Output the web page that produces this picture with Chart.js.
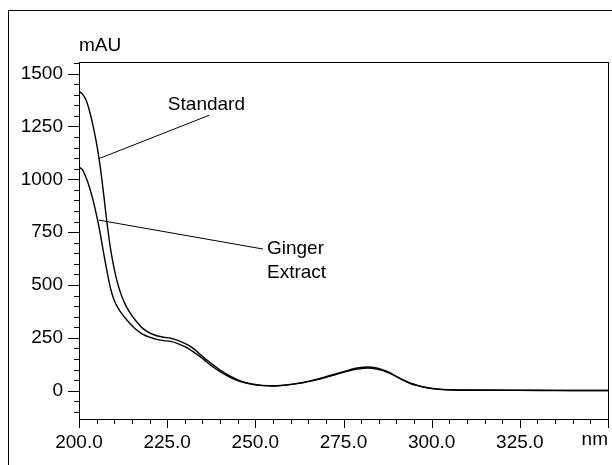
<!DOCTYPE html>
<html>
<head>
<meta charset="utf-8">
<script src="https://cdn.jsdelivr.net/npm/chart.js@4.4.1/dist/chart.umd.min.js"></script>
<style>
  html, body { margin: 0; padding: 0; background: #fff; }
  #wrap { position: relative; width: 612px; height: 465px; overflow: hidden; }
  #frame { position: absolute; left: 8px; top: 10px; width: 700px; height: 600px; border: 1px solid #000; box-sizing: border-box; }
  canvas { position: absolute; left: 0; top: 0; }
</style>
</head>
<body>
<div id="wrap">
  <div id="frame"></div>
  <canvas id="c" width="612" height="465"></canvas>
</div>
<script>
// ---- data ----
const wavelengths = [200,201,202,203,204,205,206,207,208,209,210,211,212,213,214,215,216,217,218,220,222,224,226,228,230,232,235,238,240,243,246,249,252,255,258,261,264,267,270,273,276,279,282,284,286,288,290,292,294,296,298,300,303,306,310,320,330,340,350];
const standardValues = [1416,1403,1375,1322,1252,1168,1062,928,785,665,575,505,452,412,381,355,333,313,296,273,260,253,248,238,224,205,163,122,98,68,45,32,25,23,26,32,40,52,66,80,95,107,112,109,100,86,68,50,35,25,17,11,6,4,3,2,2,1,1];
const gingerValues   = [1058,1045,1008,960,900,828,745,650,560,480,427,393,368,346,326,308,292,279,268,253,243,237,233,223,208,188,153,112,90,62,42,30,24,22,25,31,39,50,63,77,91,102,107,104,96,83,66,49,34,24,16,10,5,3,2,2,1,1,1];
const seriesNames = ['Standard', 'Ginger Extract'];

const xMajorTicks = [200,225,250,275,300,325];
const xTickLabels = ['200.0','225.0','250.0','275.0','300.0','325.0'];
const xUnitLabel = 'nm';
const yMajorTicks = [0,250,500,750,1000,1250,1500];
const yTickLabels = ['0','250','500','750','1000','1250','1500'];
const yUnitLabel = 'mAU';

// annotation anchors (data coords): curve point -> label point
const standardNote = { from: [205.7, 1098], to: [236.9, 1303], text: ['Standard'], textAt: [225.2, 1355] };
const gingerNote   = { from: [205.6, 807],  to: [252.2, 670],  text: ['Ginger', 'Extract'], textAt: [253.3, 670] };

const FONT = '19px "Liberation Sans", Arial, sans-serif';

const decor = {
  id: 'decor',
  afterDraw(chart) {
    const { ctx, chartArea: a, scales: { x, y } } = chart;
    ctx.save();
    ctx.strokeStyle = '#000';
    ctx.lineWidth = 1;
    // plot box
    ctx.strokeRect(Math.round(a.left) + 0.5, Math.round(a.top) + 0.5, Math.round(a.right - a.left), Math.round(a.bottom - a.top));
    // y ticks (major every 250, minor every 50)
    ctx.beginPath();
    for (let v = -100; v <= 1550; v += 50) {
      const py = Math.round(y.getPixelForValue(v)) + 0.5;
      const len = (v % 250 === 0) ? 11 : 5;
      ctx.moveTo(Math.round(a.left) - len, py);
      ctx.lineTo(Math.round(a.left), py);
    }
    // x ticks (major every 25, minor every 5)
    for (let v = 200; v <= 350; v += 5) {
      const px = Math.round(x.getPixelForValue(v)) + 0.5;
      const len = (v % 25 === 0) ? 9 : 5;
      ctx.moveTo(px, Math.round(a.bottom));
      ctx.lineTo(px, Math.round(a.bottom) + len);
    }
    ctx.stroke();

    ctx.fillStyle = '#000';
    ctx.font = FONT;
    // unit labels
    ctx.textAlign = 'left'; ctx.textBaseline = 'middle';
    ctx.fillText(yUnitLabel, a.left, 46);
    ctx.textAlign = 'right';
    ctx.fillText(xUnitLabel, x.getPixelForValue(350), 440);

    // annotations
    ctx.lineWidth = 1;
    [standardNote, gingerNote].forEach(n => {
      ctx.beginPath();
      ctx.moveTo(x.getPixelForValue(n.from[0]), y.getPixelForValue(n.from[1]));
      ctx.lineTo(x.getPixelForValue(n.to[0]), y.getPixelForValue(n.to[1]));
      ctx.stroke();
      ctx.textAlign = 'left'; ctx.textBaseline = 'middle';
      const tx = x.getPixelForValue(n.textAt[0]);
      const ty = y.getPixelForValue(n.textAt[1]);
      n.text.forEach((t, i) => ctx.fillText(t, tx, ty + i * 24));
    });
    ctx.restore();
  }
};

const mk = (vals) => wavelengths.map((w, i) => ({ x: w, y: vals[i] }));

new Chart(document.getElementById('c'), {
  type: 'line',
  data: {
    datasets: [
      { label: seriesNames[0], data: mk(standardValues) },
      { label: seriesNames[1], data: mk(gingerValues) }
    ].map(d => Object.assign(d, {
      borderColor: '#000', borderWidth: 1.4, pointRadius: 0, fill: false,
      cubicInterpolationMode: 'monotone'
    }))
  },
  options: {
    responsive: false, animation: false, devicePixelRatio: 1,
    layout: { padding: { top: 62, right: 4, bottom: 0, left: 0 } },
    plugins: { legend: { display: false }, tooltip: { enabled: false } },
    scales: {
      x: {
        type: 'linear', min: 200, max: 350,
        border: { display: false },
        grid: { display: false, drawTicks: false },
        afterBuildTicks: s => { s.ticks = xMajorTicks.map(v => ({ value: v })); },
        afterFit: s => { s.height = 46; },
        ticks: {
          padding: 12, maxRotation: 0, autoSkip: false, color: '#000',
          font: { family: '"Liberation Sans", Arial, sans-serif', size: 19 },
          callback: (v) => xTickLabels[xMajorTicks.indexOf(v)]
        }
      },
      y: {
        type: 'linear', min: -134, max: 1555,
        border: { display: false },
        grid: { display: false, drawTicks: false },
        afterBuildTicks: s => { s.ticks = yMajorTicks.map(v => ({ value: v })); },
        afterFit: s => { s.width = 79; },
        ticks: {
          padding: 16, autoSkip: false, color: '#000',
          font: { family: '"Liberation Sans", Arial, sans-serif', size: 19 },
          callback: (v) => yTickLabels[yMajorTicks.indexOf(v)]
        }
      }
    }
  },
  plugins: [decor]
});
</script>
</body>
</html>
